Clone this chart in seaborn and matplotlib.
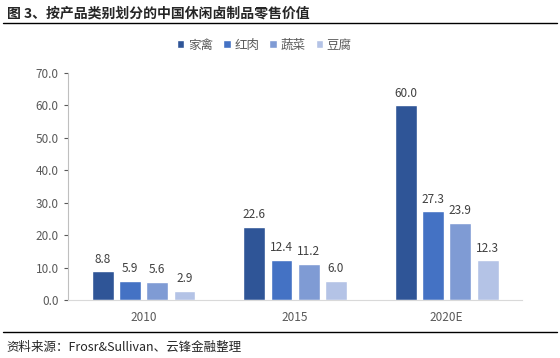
import matplotlib.pyplot as plt
import pandas as pd
import seaborn as sns
from matplotlib.patches import Patch

sns.set_style("white")
plt.rcParams['font.family'] = ['Noto Sans CJK SC', 'DejaVu Sans']

years = ['2010', '2015', '2020E']
categories = ['家禽', '红肉', '蔬菜', '豆腐']
poultry = [8.8, 22.6, 60.0]
red_meat = [5.9, 12.4, 27.3]
vegetables = [5.6, 11.2, 23.9]
tofu = [2.9, 6.0, 12.3]
colors = ['#2F5597', '#4472C4', '#7F9BD4', '#B4C3E6']

df = pd.DataFrame({
    'year': years * 4,
    'cat': [c for c in categories for _ in years],
    'value': poultry + red_meat + vegetables + tofu,
})

fig = plt.figure(figsize=(5.6, 3.58), dpi=100)
ax = fig.add_axes([0.121, 0.162, 0.812, 0.634])

sns.barplot(data=df, x='year', y='value', hue='cat', hue_order=categories,
            palette=colors, saturation=1, width=0.72, gap=0.2, ax=ax, legend=False)

for cont in ax.containers:
    ax.bar_label(cont, fmt='%.1f', padding=4, fontsize=8.5, color='#404040')

ax.set_ylim(0, 70)
ax.set_yticks(range(0, 71, 10))
ax.set_yticklabels([f'{v:.1f}' for v in range(0, 71, 10)])
ax.set_xlabel('')
ax.set_ylabel('')
ax.tick_params(axis='y', labelsize=8.5, colors='#595959', length=3, width=0.8, direction='out', left=True)
ax.tick_params(axis='x', labelsize=8.5, colors='#595959', length=0, pad=8)
for s in ['top', 'right']:
    ax.spines[s].set_visible(False)
ax.spines['left'].set_color('#BFBFBF')
ax.spines['bottom'].set_color('#D9D9D9')
ax.spines['left'].set_linewidth(0.8)
ax.spines['bottom'].set_linewidth(0.8)

# legend
handles = [Patch(facecolor=c) for c in colors]
fig.legend(handles, categories, loc='center', bbox_to_anchor=(0.472, 0.874), ncol=4,
           frameon=False, fontsize=9, handlelength=0.6, handleheight=0.6,
           handletextpad=0.3, columnspacing=0.8, labelcolor='#595959')

fig.text(0.012, 0.962, '图 3、按产品类别划分的中国休闲卤制品零售价值', fontsize=10,
         fontweight='bold', va='center', ha='left')
fig.add_artist(plt.Line2D([0.005, 0.995], [0.937, 0.937], color='black', lw=1))
fig.add_artist(plt.Line2D([0.005, 0.995], [0.073, 0.073], color='black', lw=1))
fig.text(0.012, 0.03, '资料来源：Frosr&Sullivan、云锋金融整理', fontsize=9,
         va='center', ha='left')

fig.savefig('out.png', dpi=100)
